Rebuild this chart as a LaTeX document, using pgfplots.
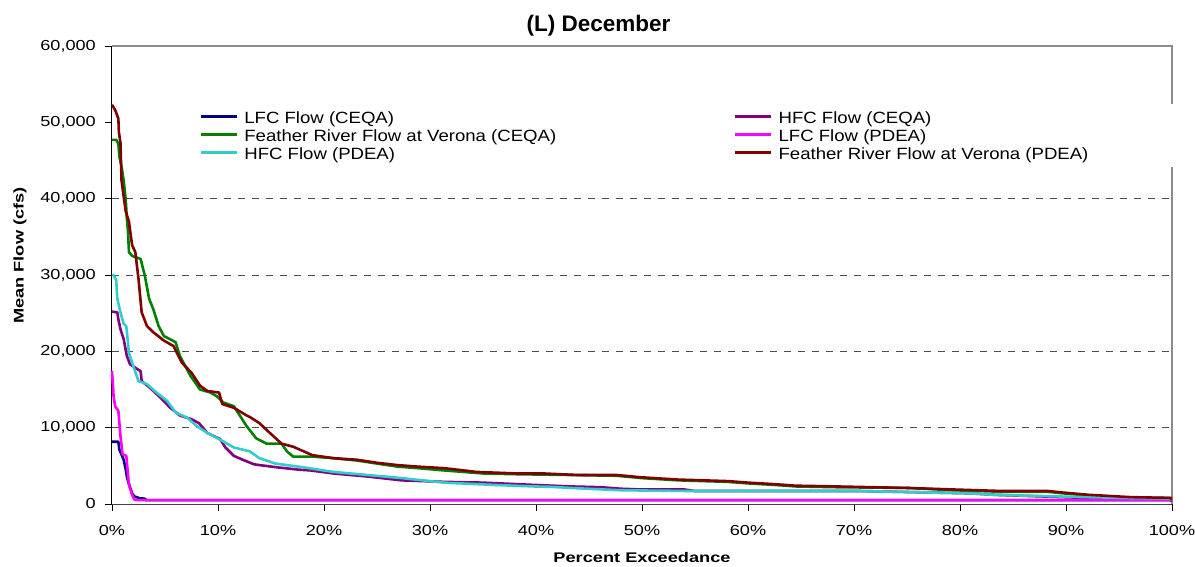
\documentclass[border=0pt]{standalone}
\usepackage{fontspec}
\setmainfont{Liberation Sans}
\newfontfamily\tickfont[FakeStretch=1.25]{Liberation Sans}
\newfontfamily\legfont[FakeStretch=1.14]{Liberation Sans}
\newfontfamily\labfont[FakeStretch=1.3]{Liberation Sans}
\usepackage{pgfplots}
\pgfplotsset{compat=1.18}
\definecolor{cnavy}{RGB}{0,0,128}
\definecolor{cpurple}{RGB}{128,0,128}
\definecolor{cgreen}{RGB}{0,128,0}
\definecolor{cmagenta}{RGB}{255,0,255}
\definecolor{ccyan}{RGB}{51,204,204}
\definecolor{cdred}{RGB}{128,0,0}
\begin{document}
\begin{tikzpicture}
\path[use as bounding box] (-112bp,-63bp) rectangle (1083bp,504bp);
\begin{axis}[
 at={(0,0)}, anchor=south west,
 scale only axis, width=1060bp, height=458bp,
 xmin=0, xmax=100, ymin=0, ymax=60000,
 axis x line*=bottom, axis y line*=left,
 x axis line style={black!75, line width=1bp, -},
 y axis line style={black, line width=1bp, -},
 xtick={0,10,...,100}, ytick={0,10000,...,60000},
 tick align=outside, major tick length=7bp,
 tick style={black, line width=0.8bp},
 ymajorgrids, grid style={black!70, dash pattern=on 7bp off 7bp, line width=0.9bp},
 scaled y ticks=false,
 /pgf/number format/assume math mode=true,
 /pgf/number format/1000 sep={,},
 tick label style={font=\tickfont\fontsize{14.5bp}{16bp}\selectfont},
 yticklabel style={anchor=east, inner sep=0pt, xshift=-9bp},
 xticklabel style={anchor=north, inner sep=0pt, yshift=-14bp},
 xticklabel={\pgfmathprintnumber{\tick}\%},
 clip=false,
 legend columns=2,
 legend cell align=left,
 legend style={at={(rel axis cs:0.0830,0.8574)}, anchor=north west, draw=none, fill=none,
   inner sep=0pt, outer sep=0pt, font=\legfont\fontsize{16.3bp}{18bp}\selectfont,
   row sep=0pt, column sep=0pt,
   /tikz/every odd column/.append style={column sep=6bp},
   /tikz/every even column/.append style={column sep=178bp},
   nodes={inner sep=0pt, text height=12bp, text depth=6bp}},
 legend image code/.code={\draw[#1, line width=2.4bp] (0bp,4bp) -- (36bp,4bp);},
 every axis plot/.append style={line width=2.6bp, line join=round},
]
\fill[white] (rel axis cs:0,0.736) rectangle (rel axis cs:1.0075,0.873);
\draw[black!45, line width=1.2bp] (rel axis cs:0,1) -- (rel axis cs:1,1) -- (rel axis cs:1,0.873);
\draw[black!45, line width=1.2bp] (rel axis cs:1,0.736) -- (rel axis cs:1,0);

\addplot[cnavy] coordinates {(0,8150) (0.6,8150) (0.7,7100) (0.9,6500) (1.1,5800) (1.3,4500) (1.4,3600) (1.6,2600) (1.9,1400) (2.1,1000) (2.3,900) (2.6,750) (3.1,700) (3.2,500) (100,500)};
\addlegendentry{LFC Flow (CEQA)}

\addplot[cpurple] coordinates {(0,25200) (0.5,25100) (0.6,24200) (0.8,22900) (1.1,21600) (1.4,19400) (1.7,18300) (2.7,17400) (2.8,16100) (3.6,15200) (4.6,13900) (5.5,12600) (6.4,11600) (7.5,11100) (8.2,10600) (9.0,9300) (10.2,8500) (10.7,7400) (11.5,6300) (12.5,5700) (13.4,5200) (13.9,5100) (15.6,4800) (17.6,4500) (18.7,4400) (20.9,4000) (24.1,3600) (27.3,3100) (31.3,2900) (35.0,2800) (39.8,2500) (43.3,2300) (46.1,2200) (48,2000) (50,1900) (54,1900) (55,1700) (70.5,1700) (80.9,1400) (83.3,1200) (91.8,800) (100,800)};
\addlegendentry{HFC Flow (CEQA)}

\addplot[cgreen] coordinates {(0,47700) (0.4,47700) (0.6,47200) (0.7,45500) (0.9,44200) (1.1,42400) (1.3,39800) (1.4,37400) (1.5,35900) (1.6,33000) (1.9,32500) (2.7,32100) (3.1,29900) (3.5,26900) (3.9,25500) (4.4,23300) (4.9,22000) (6.0,21200) (6.4,19400) (7.4,16800) (8.3,15000) (9.3,14600) (9.9,14100) (10.5,13300) (11.5,12800) (12.7,10200) (13.6,8600) (14.6,7900) (16.0,7900) (16.5,6900) (17.1,6200) (19,6200) (20.9,6000) (23.1,5700) (25,5300) (26.9,4900) (28.8,4700) (31.3,4400) (35,4000) (38.2,3900) (43.2,3800) (47.6,3700) (49.9,3400) (53.4,3100) (58.1,2900) (60,2700) (62.5,2500) (64.5,2300) (68.3,2200) (75.1,2100) (79.4,1800) (84,1600) (88.3,1600) (89.7,1400) (92.2,1100) (96.1,800) (99.7,700) (100,300)};
\addlegendentry{Feather River Flow at Verona (CEQA)}

\addplot[cmagenta] coordinates {(0,17400) (0.15,14100) (0.3,12800) (0.6,12200) (0.8,8900) (1.0,6500) (1.35,6300) (1.5,4000) (1.6,2500) (1.9,1200) (2.1,600) (2.3,500) (100,500)};
\addlegendentry{LFC Flow (PDEA)}

\addplot[ccyan] coordinates {(0,30000) (0.2,29900) (0.4,29300) (0.5,26900) (0.8,25100) (1.1,23600) (1.35,23300) (1.6,19800) (1.9,18500) (2.5,16100) (3.3,15700) (4.2,14600) (5.2,13500) (6.0,12000) (7.1,11300) (8.0,10200) (9.0,9300) (10.5,8200) (11.5,7400) (13.0,6900) (13.9,6000) (15.4,5300) (17.6,4900) (20.9,4200) (24.1,3800) (27.3,3400) (31.3,2800) (36.0,2500) (39.8,2300) (41.4,2250) (43.3,2100) (48,1800) (54.6,1700) (70.5,1700) (80.9,1400) (83.3,1200) (91.8,900) (95.7,800) (100,700)};
\addlegendentry{HFC Flow (PDEA)}

\addplot[cdred] coordinates {(0,52300) (0.3,51600) (0.6,50500) (0.65,48700) (0.8,47300) (0.9,42400) (1.1,40300) (1.3,38300) (1.6,37000) (1.7,35900) (1.9,33900) (2.2,33000) (2.5,29500) (2.8,25100) (3.3,23300) (3.9,22500) (4.9,21400) (5.8,20700) (6.6,18500) (7.5,17200) (8.3,15500) (9.0,14800) (10.1,14600) (10.4,13100) (11.5,12600) (12.7,11600) (13.0,11400) (13.9,10600) (14.9,9300) (16.0,7900) (17.1,7500) (18.9,6400) (20.9,6000) (23.1,5800) (25.0,5400) (26.9,5100) (28.8,4900) (31.3,4700) (34.4,4200) (38.2,4000) (40.7,4000) (43.9,3800) (47.6,3800) (49.9,3500) (53.4,3200) (58.1,3000) (60,2800) (62.5,2600) (64.5,2400) (68.3,2300) (75.1,2100) (79.4,1900) (84.0,1700) (88.3,1700) (89.7,1500) (92.2,1200) (96.1,900) (99.7,800) (100,700)};
\addlegendentry{Feather River Flow at Verona (PDEA)}
\end{axis}
\node[anchor=base, font=\bfseries\fontsize{22.5bp}{26bp}\selectfont] at (486.5bp,472.3bp) {(L) December};
\node[anchor=center, font=\labfont\bfseries\fontsize{14bp}{16bp}\selectfont] at (530bp,-53bp) {Percent Exceedance};
\node[anchor=center, rotate=90, font=\labfont\bfseries\fontsize{14bp}{16bp}\selectfont] at (-92bp,248.5bp) {Mean Flow (cfs)};
\end{tikzpicture}
\end{document}
